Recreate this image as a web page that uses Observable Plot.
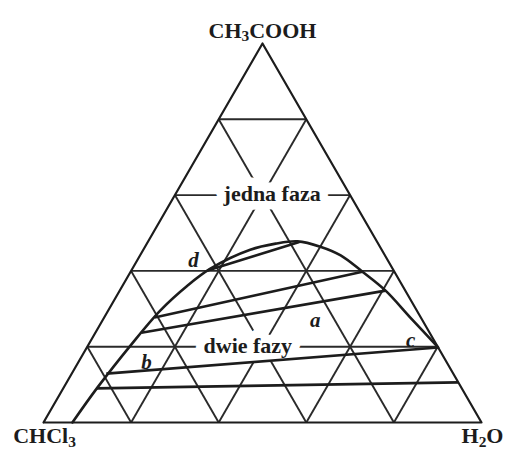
<!DOCTYPE html>
<html><head><meta charset="utf-8">
<script src="https://cdn.jsdelivr.net/npm/d3@7"></script>
<script src="https://cdn.jsdelivr.net/npm/@observablehq/plot@0.6"></script>
<style>body{margin:0;background:#fff}</style>
</head><body><div id="chart"></div>
<script>
// Compositions in percent: [CH3COOH (a), H2O (w)]; CHCl3 = 100 - a - w
const topVertex = [{name: "CH3COOH", a: 100, w: 0}];
const baseVertices = [{name: "CHCl3", a: 0, w: 0}, {name: "H2O", a: 0, w: 100}];
const gridLevels = [20, 40, 60, 80];
const binodal = [[0,6.6],[9.2,7.7],[20.3,9.7],[29.6,11.9],[36.1,14.8],[40.6,17.8],[45.6,24.4],[47.2,29.4],[47.8,34.1],[46.4,40.0],[44.1,45.8],[39.8,52.9],[34.8,60.7],[27.7,69.9],[19.8,80.2]];
const tieLines = [
  [[9.0,7.6],[10.6,89.4]],
  [[12.9,7.9],[19.8,80.2]],
  [[23.7,10.5],[34.8,60.7]],
  [[27.7,11.5],[39.8,52.9]],
  [[40.1,17.4],[47.6,34.6]]
];
const regionLabels = [{text: "jedna faza", a: 60.4, w: 22.0}, {text: "dwie fazy", a: 20.3, w: 36.5}];
const pointLabels = [{text: "d", a: 42.7, w: 12.9}, {text: "a", a: 26.9, w: 48.6}, {text: "b", a: 15.8, w: 15.6}, {text: "c", a: 21.6, w: 73.0}];

const X = (a, w) => w + a / 2;
const gridSegs = [];
for (const k of gridLevels) {
  gridSegs.push({a1: k, w1: 0, a2: k, w2: 100 - k});          // constant CH3COOH
  gridSegs.push({a1: 0, w1: k, a2: 100 - k, w2: k});          // constant H2O
  gridSegs.push({a1: 0, w1: 100 - k, a2: 100 - k, w2: 0});    // constant CHCl3
}
const border = [[0,0],[0,100],[100,0],[0,0]];
const ties = tieLines.map(([p, q]) => ({a1: p[0], w1: p[1], a2: q[0], w2: q[1]}));
const serif = "Liberation Serif, Times New Roman, serif";
const ink = "#1c1c1c";

const plot = Plot.plot({
  width: 506, height: 450,
  marginTop: 0, marginBottom: 0, marginLeft: 0, marginRight: 0,
  x: {domain: [0, 100], range: [43, 481], axis: null},
  y: {domain: [0, 100], range: [422, 43], axis: null},
  marks: [
    Plot.link(gridSegs, {x1: d => X(d.a1, d.w1), y1: "a1", x2: d => X(d.a2, d.w2), y2: "a2", stroke: "#2a2a2a", strokeWidth: 1.9}),
    Plot.text(regionLabels, {x: d => X(d.a, d.w), y: "a", text: "text", fill: "white", stroke: "white", strokeWidth: 17, strokeLinejoin: "round", fontFamily: serif, fontWeight: "bold", fontSize: 22}),
    Plot.line(border, {x: d => X(d[0], d[1]), y: d => d[0], stroke: ink, strokeWidth: 2.2}),
    Plot.link(ties, {x1: d => X(d.a1, d.w1), y1: "a1", x2: d => X(d.a2, d.w2), y2: "a2", stroke: ink, strokeWidth: 2.6}),
    Plot.line(binodal, {x: d => X(d[0], d[1]), y: d => d[0], curve: "catmull-rom", stroke: ink, strokeWidth: 2.6}),
    Plot.text(regionLabels, {x: d => X(d.a, d.w), y: "a", text: "text", fill: ink, fontFamily: serif, fontWeight: "bold", fontSize: 22}),
    Plot.text(pointLabels, {x: d => X(d.a, d.w), y: "a", text: "text", fill: ink, fontFamily: serif, fontStyle: "italic", fontWeight: "bold", fontSize: 21}),
    Plot.text(topVertex, {x: d => X(d.a, d.w), y: "a", text: "name", lineAnchor: "bottom", dy: -6, fill: ink, fontFamily: serif, fontWeight: "bold", fontSize: 22, className: "vlabel"}),
    Plot.text(baseVertices, {x: d => X(d.a, d.w), y: "a", text: "name", lineAnchor: "top", dy: 5, dx: 1, fill: ink, fontFamily: serif, fontWeight: "bold", fontSize: 22, className: "vlabel"})
  ]
});
document.getElementById("chart").appendChild(plot);

// render digits in formulas as subscripts
plot.querySelectorAll(".vlabel text").forEach(t => {
  const s = t.textContent;
  t.textContent = "";
  let shifted = false;
  for (const part of s.split(/(\d+)/).filter(p => p.length)) {
    const ts = document.createElementNS("http://www.w3.org/2000/svg", "tspan");
    ts.textContent = part;
    if (/^\d+$/.test(part)) {
      ts.setAttribute("font-size", "70%");
      ts.setAttribute("dy", "0.22em");
      shifted = true;
    } else if (shifted) {
      ts.setAttribute("dy", "-0.154em");
      shifted = false;
    }
    t.appendChild(ts);
  }
});
</script>
</body></html>
